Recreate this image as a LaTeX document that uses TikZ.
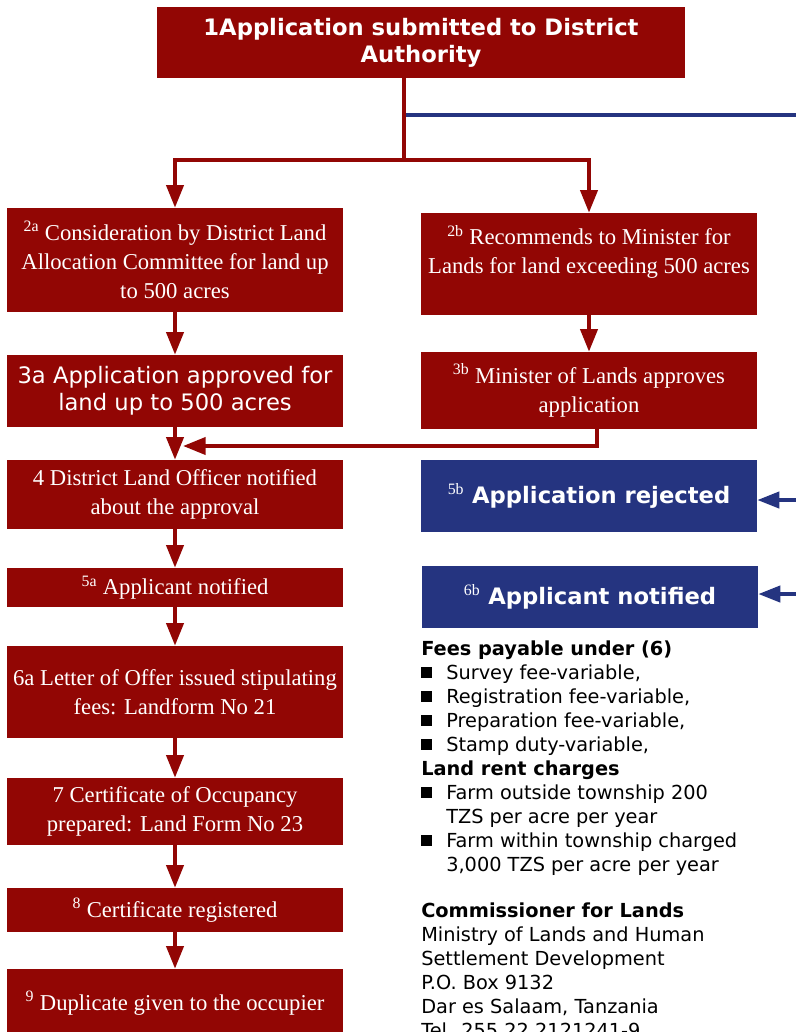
\documentclass[tikz,border=0pt]{standalone}
\usepackage{fontspec}
\setmainfont{Liberation Serif}
\setsansfont{DejaVu Sans}
\usepackage{tikz}
\usetikzlibrary{arrows.meta,positioning}
\definecolor{landred}{RGB}{146,6,4}
\definecolor{landblue}{RGB}{37,52,128}
\newcommand{\sqitem}{\makebox[18.75pt][l]{\rule[1.5pt]{8.25pt}{8.25pt}}}
\newcommand{\hangin}{\hspace*{18.75pt}}

\begin{document}
\begin{tikzpicture}[x=0.75pt, y=-0.75pt,
		redbox/.style={fill=landred, text=white, inner sep=0pt, minimum width=252pt, align=center, font=\fontsize{17}{21.75}\selectfont},
		bluebox/.style={fill=landblue, text=white, inner sep=0pt, minimum width=252pt, align=center, font=\sffamily\bfseries\fontsize{17}{20.25}\selectfont},
		redline/.style={draw=landred, line width=3pt},
		redarrow/.style={redline, -{Triangle[width=12.75pt,length=17pt]}},
		blueline/.style={draw=landblue, line width=3pt},
		bluearrow/.style={blueline, -{Triangle[width=12pt,length=16.5pt]}}]
		\useasboundingbox (0,0) rectangle (796,1032);

		\node[redbox, minimum width=396pt, minimum height=53.25pt, font=\sffamily\bfseries\fontsize{17}{20.25}\selectfont] (1) at (421,42.5) {1Application submitted to District\\Authority};
		\node[redbox, minimum height=78pt] (2a) at (175,260) {\textsuperscript{2a} Consideration by District Land\\Allocation Committee for land up\\to 500 acres};
		\node[redbox, minimum height=76.5pt] (2b) at (589,264) {\textsuperscript{2b} Recommends to Minister for\\Lands for land exceeding 500 acres\\\mbox{}};
		\node[redbox, minimum height=54pt, font=\sffamily\fontsize{17}{20.25}\selectfont] (3a) at (175,391) {3a Application approved for\\land up to 500 acres};
		\node[redbox, minimum height=57.75pt] (3b) at (589,390.5) {\textsuperscript{3b} Minister of Lands approves\\application};
		\node[redbox, minimum height=51.75pt] (4) at (175,494.5) {4 District Land Officer notified\\about the approval};
		\node[redbox, minimum height=29.25pt] (5a) at (175,587.5) {\textsuperscript{5a} Applicant notified};
		\node[redbox, minimum height=69pt] (6a) at (175,692) {6a Letter of Offer issued stipulating\\fees: Landform No 21};
		\node[redbox, minimum height=50.25pt] (7) at (175,811.5) {7 Certificate of Occupancy\\prepared: Land Form No 23};
		\node[redbox, minimum height=33pt] (8) at (175,910) {\textsuperscript{8} Certificate registered};
		\node[redbox, minimum height=51pt] (9) at (175,1003) {\textsuperscript{9} Duplicate given to the occupier};

		\node[bluebox, minimum height=54pt] (5b) at (589,496) {\textsuperscript{\normalfont 5b} Application rejected};
		\node[bluebox, minimum height=46.5pt] (6b) at (590,597) {\textsuperscript{\normalfont 6b} Applicant notified};

		\node[anchor=north west, inner sep=0pt, align=left, font=\sffamily\fontsize{14.5}{18}\selectfont] (fees) at (421,641) {\textbf{Fees payable under (6)}\\
			\sqitem Survey fee-variable,\\
			\sqitem Registration fee-variable,\\
			\sqitem Preparation fee-variable,\\
			\sqitem Stamp duty-variable,\\
			\textbf{Land rent charges}\\
			\sqitem Farm outside township 200\\
			\hangin TZS per acre per year\\
			\sqitem Farm within township charged\\
			\hangin 3,000 TZS per acre per year\\[16.5pt]
			\textbf{Commissioner for Lands}\\
			Ministry of Lands and Human\\
			Settlement Development\\
			P.O. Box 9132\\
			Dar es Salaam, Tanzania\\
			Tel. 255 22 2121241-9};

		\coordinate (c1) at (404,160);
		\coordinate (c2) at (796,115);
		\coordinate (c3) at (183,446);
		\coordinate (c4) at (796,500);
		\coordinate (c5) at (796,594);

		\draw[blueline] (c2 -| c1) -- (c2);
		\draw[redline] (1.south -| c1) -- (c1);
		\draw[redarrow] (c1) -| (2a.north);
		\draw[redarrow] (c1) -| (2b.north);
		\draw[redarrow] (2a) -- (3a);
		\draw[redarrow] (2b) -- (3b);
		\draw[redarrow] (3a) -- (4);
		\draw[redarrow] ([xshift=6pt]3b.south) |- (c3);
		\draw[redarrow] (4) -- (5a);
		\draw[redarrow] (5a) -- (6a);
		\draw[redarrow] (6a) -- (7);
		\draw[redarrow] (7) -- (8);
		\draw[redarrow] (8) -- (9);
		\draw[bluearrow] (c4) -- (c4 -| 5b.east);
		\draw[bluearrow] (c5) -- (c5 -| 6b.east);
	\end{tikzpicture}
\end{document}
